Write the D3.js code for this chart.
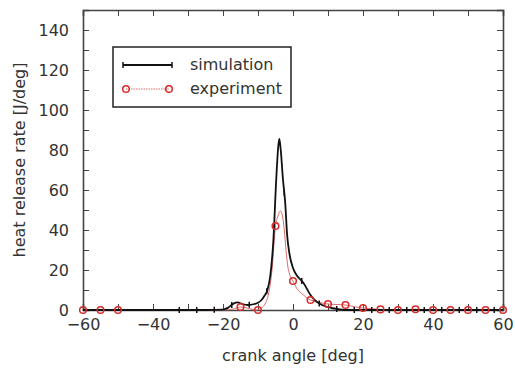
<!DOCTYPE html>
<html>
<head>
<meta charset="utf-8">
<script src="https://cdn.jsdelivr.net/npm/d3@7"></script>
<style>
    body { margin: 0; background: #fff; }
    svg text { font-family: "DejaVu Sans", sans-serif; fill: #333; }
    .axis path, .axis line { stroke: #444; }
</style>
</head>
<body>
<div id="chart"></div>
<script>
// simulation curve (crank angle, heat release rate)
let simAngle = [-60, -25, -20, -18.5, -17, -15.8, -14.5, -12.9, -11, -10, -9, -8.2, -7.3, -6.5, -5.6, -4.8, -4.2, -3.9, -3.5, -2.9, -2.2, -1.7, -1, 0, 1, 2, 3, 4, 5, 6, 7.5, 9, 11, 13, 15, 60]
let simValue = [0, 0, 0.2, 1.2, 3.2, 3.8, 3, 2.5, 3, 3.6, 5, 7, 10, 17, 35, 65, 82, 85.5, 80, 66, 53, 38, 28, 21, 17.5, 15.5, 13.5, 10.5, 7.5, 5.3, 3.3, 2, 1, 0.4, 0, 0]
let simMarkAngle = [-32.5, -27.5, -22.5, -17.5, -12.5, -7.5, -2.5, 2.5, 7.5, 12.5, 17.5, 22.5, 27.5, 32.5, 37.5, 42.5, 47.5, 52.5, 57.5]

// experiment curve
let expAngle = [-60, -20, -17, -15, -13, -10.5, -9, -8, -7, -6, -5, -4.3, -3.6, -3, -2.5, -2, -1.5, -1, 0, 1, 2, 3, 4, 5, 6.5, 8, 10, 12, 15, 18, 20, 25, 30, 35, 40, 60]
let expValue = [0, 0, 0.5, 1.5, 1, 0, 1, 3, 8, 20, 42, 47, 49.5, 47, 40, 30, 22, 18, 14.5, 11, 9, 7.5, 6, 5, 4.3, 3.6, 3, 2.8, 2.5, 1.5, 1, 0.3, 0, 0.4, 0, 0]
let expMarkAngle = [-60, -55, -50, -15, -10, -5, 0, 5, 10, 15, 20, 25, 30, 35, 40, 45, 50, 55, 60]
let expMarkValue = [0, 0, 0, 1.5, 0, 42, 14.5, 5, 3, 2.5, 1, 0.3, 0, 0.4, 0, 0, 0, 0, 0]

let xTicks = d3.range(-60, 61, 10)
let yTicks = d3.range(0, 141, 10)
let legendLabels = ["simulation", "experiment"]

let width = 515, height = 372
let margin = {top: 10, right: 12, bottom: 62, left: 83}

let svg = d3.select("#chart").append("svg")
    .attr("width", width)
    .attr("height", height)

let x = d3.scaleLinear().domain([-60, 60]).range([margin.left, width - margin.right])
let y = d3.scaleLinear().domain([0, 150]).range([height - margin.bottom, margin.top])

let simData = simAngle.map((a, i) => ({a: a, v: simValue[i]}))
let expData = expAngle.map((a, i) => ({a: a, v: expValue[i]}))
let simLookup = d3.scaleLinear().domain(simAngle).range(simValue)

let fmtX = d => (d % 20 === 0 ? d3.format("d")(d) : "")
let fmtY = d => (d % 20 === 0 ? d3.format("d")(d) : "")

// axes, ticks inward
svg.append("g").attr("class", "axis")
    .attr("transform", `translate(0, ${y(0)})`)
    .call(d3.axisBottom(x).tickValues(xTicks).tickSize(-6).tickPadding(9).tickFormat(fmtX))
svg.append("g").attr("class", "axis")
    .attr("transform", `translate(0, ${y(150)})`)
    .call(d3.axisTop(x).tickValues(xTicks).tickSize(-6).tickFormat(""))
svg.append("g").attr("class", "axis")
    .attr("transform", `translate(${x(-60)}, 0)`)
    .call(d3.axisLeft(y).tickValues(yTicks).tickSize(-6).tickPadding(14).tickFormat(fmtY))
svg.append("g").attr("class", "axis")
    .attr("transform", `translate(${x(60)}, 0)`)
    .call(d3.axisRight(y).tickValues(yTicks).tickSize(-6).tickFormat(""))

svg.selectAll(".axis path").attr("stroke-width", 1.6).attr("stroke", "#333")
svg.selectAll(".axis text").style("font-size", "16px").attr("fill", "#333")

// axis titles
svg.append("text")
    .attr("x", x(0))
    .attr("y", 361)
    .attr("text-anchor", "middle")
    .style("font-size", "16px")
    .text("crank angle [deg]")

svg.append("text")
    .attr("transform", `translate(25, ${(y(0) + y(150)) / 2}) rotate(-90)`)
    .attr("text-anchor", "middle")
    .style("font-size", "16px")
    .text("heat release rate [J/deg]")

let line = d3.line().x(d => x(d.a)).y(d => y(d.v)).curve(d3.curveMonotoneX)

// experiment
svg.append("path")
    .datum(expData)
    .attr("d", line)
    .attr("fill", "none")
    .attr("stroke", "#e06a6a")
    .attr("stroke-width", 1)

// simulation
svg.append("path")
    .datum(simData)
    .attr("d", line)
    .attr("fill", "none")
    .attr("stroke", "#111")
    .attr("stroke-width", 1.8)

svg.selectAll(".sim-mark")
    .data(simMarkAngle)
    .enter().append("line")
    .attr("class", "sim-mark")
    .attr("x1", d => x(d)).attr("x2", d => x(d))
    .attr("y1", d => y(simLookup(d)) - 3)
    .attr("y2", d => y(simLookup(d)) + 3)
    .attr("stroke", "#111")
    .attr("stroke-width", 1.5)

svg.selectAll(".exp-mark")
    .data(expMarkAngle)
    .enter().append("circle")
    .attr("class", "exp-mark")
    .attr("cx", d => x(d))
    .attr("cy", (d, i) => y(expMarkValue[i]))
    .attr("r", 3.3)
    .attr("fill", "none")
    .attr("stroke", "#d92b2b")
    .attr("stroke-width", 1.5)

// legend
let legend = svg.append("g")
legend.append("rect")
    .attr("x", 113).attr("y", 47)
    .attr("width", 178).attr("height", 60)
    .attr("fill", "#fff")
    .attr("stroke", "#222")
    .attr("stroke-width", 1.5)

legend.append("line")
    .attr("x1", 123).attr("x2", 172).attr("y1", 65).attr("y2", 65)
    .attr("stroke", "#111").attr("stroke-width", 1.8)
legend.selectAll(".lg-tick").data([123, 172]).enter().append("line")
    .attr("x1", d => d).attr("x2", d => d).attr("y1", 62).attr("y2", 68)
    .attr("stroke", "#111").attr("stroke-width", 1.5)

legend.append("line")
    .attr("x1", 126).attr("x2", 169).attr("y1", 89).attr("y2", 89)
    .attr("stroke", "#e06a6a").attr("stroke-width", 1)
    .attr("stroke-dasharray", "1.5,1")
legend.selectAll(".lg-circ").data([126, 169]).enter().append("circle")
    .attr("cx", d => d).attr("cy", 89).attr("r", 3.3)
    .attr("fill", "none").attr("stroke", "#d92b2b").attr("stroke-width", 1.5)

legend.selectAll(".lg-text").data(legendLabels).enter().append("text")
    .attr("x", 190)
    .attr("y", (d, i) => 70 + i * 24)
    .style("font-size", "16px")
    .text(d => d)
</script>
</body>
</html>
